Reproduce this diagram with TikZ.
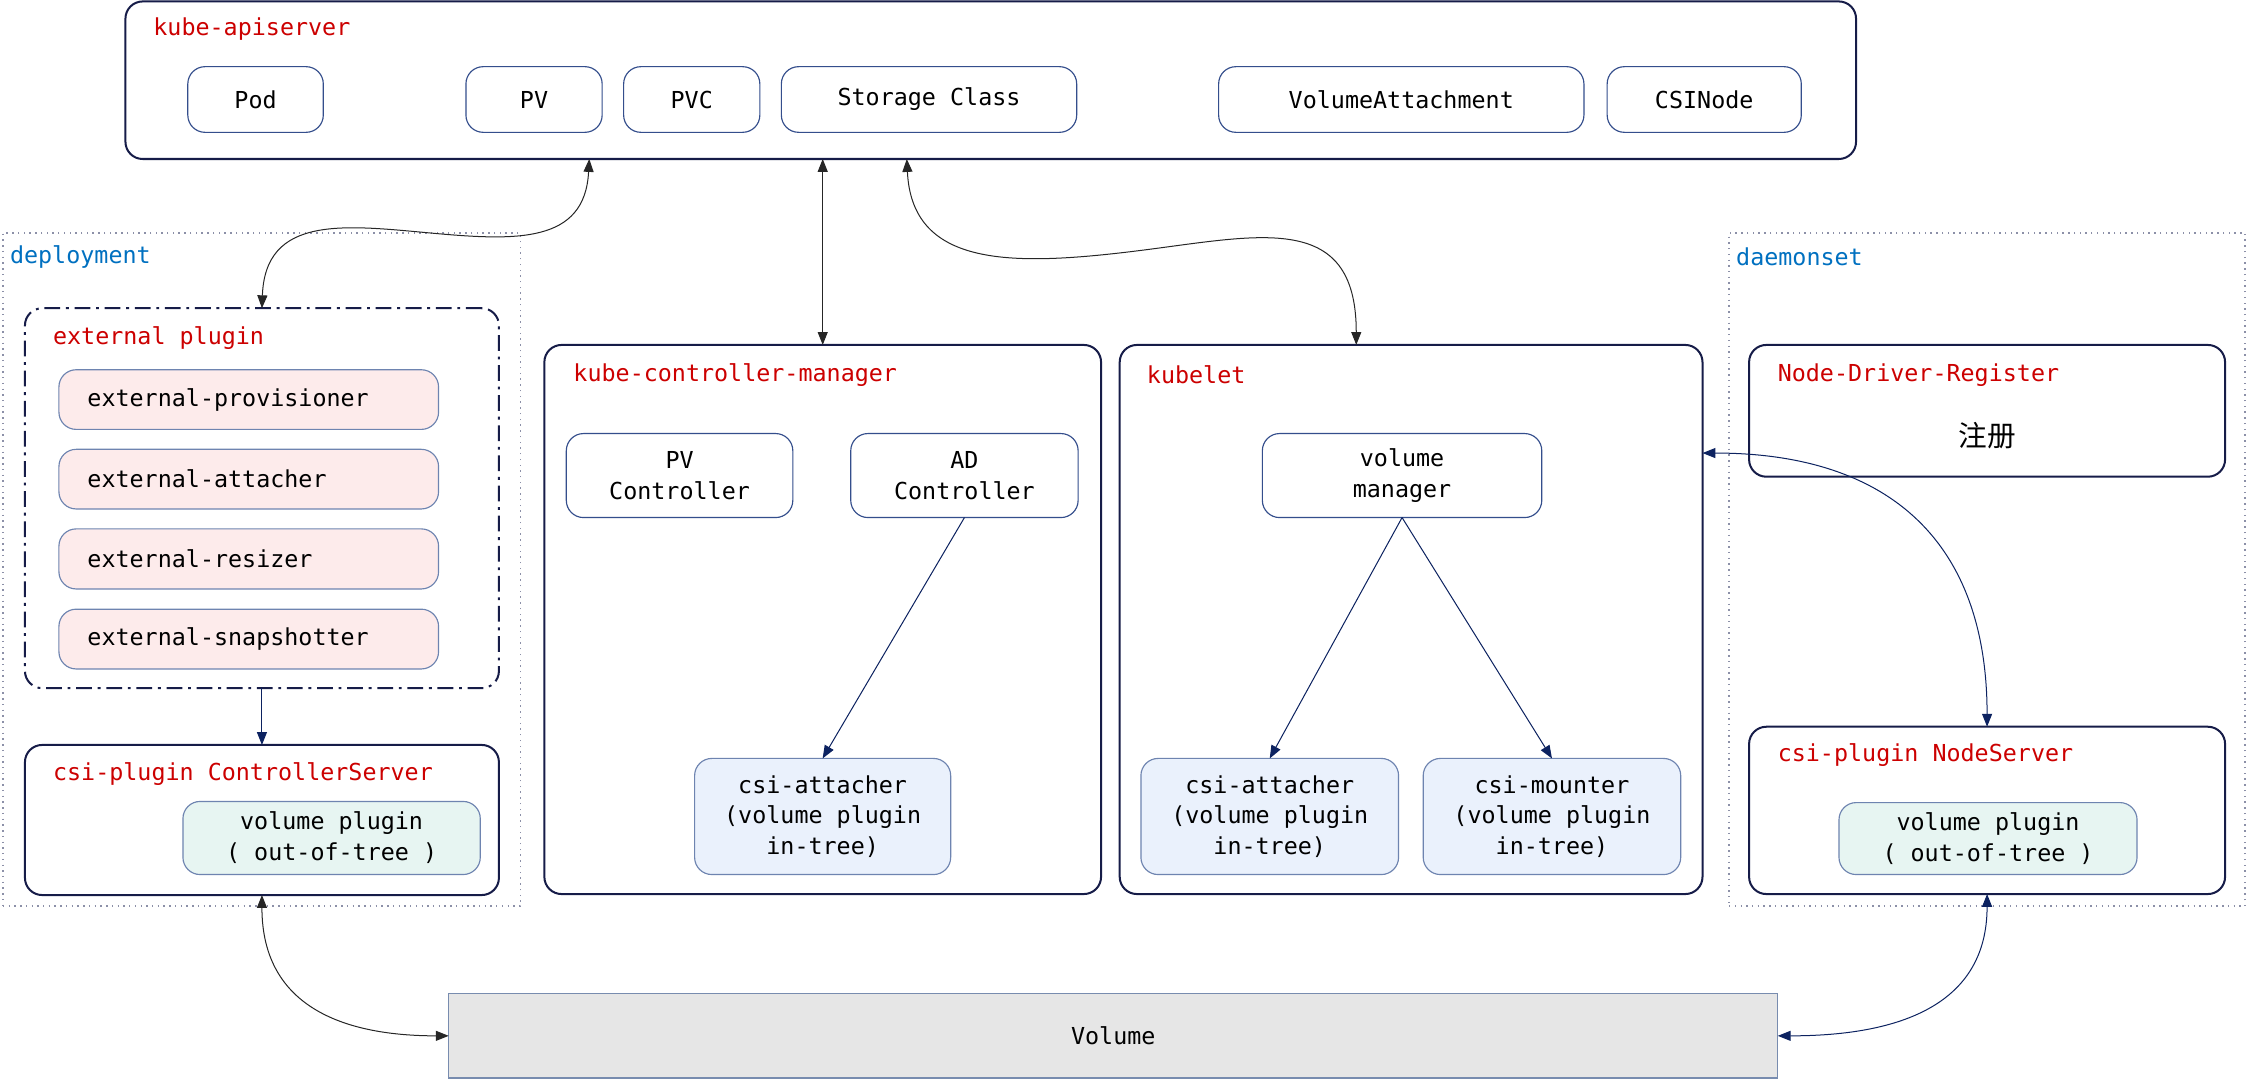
\documentclass[tikz,border=0pt]{standalone}
\usepackage{fontspec}
\setmonofont{DejaVu Sans Mono}
\newfontfamily\cjkfont{Noto Sans CJK SC}
\usetikzlibrary{arrows.meta}
\definecolor{navy}{RGB}{22,28,72}
\definecolor{innerb}{RGB}{52,78,140}
\definecolor{softb}{RGB}{110,132,176}
\definecolor{lred}{RGB}{204,0,0}
\definecolor{lblue}{RGB}{0,112,192}
\definecolor{arrnavy}{RGB}{12,34,96}
\definecolor{dotgray}{RGB}{140,144,168}
\definecolor{pinkf}{RGB}{253,235,235}
\definecolor{mintf}{RGB}{231,245,242}
\definecolor{bluef}{RGB}{234,241,252}
\definecolor{grayf}{RGB}{230,230,230}
\definecolor{volb}{RGB}{120,140,175}
\begin{document}
\begin{tikzpicture}[x=1pt,y=-1pt,
  every node/.style={inner sep=0pt,outer sep=0pt},
  corners/.style n args={4}{minimum width={(#3-#1)*1pt}, minimum height={(#4-#2)*1pt}, at={({(#1+#3)/2},{(#2+#4)/2})}},
  mono/.style={font=\ttfamily\fontsize{16.3pt}{21.5pt}\selectfont},
  outerbox/.style={rectangle, draw=navy, line width=1.4pt, rounded corners=12pt, fill=white},
  itembox/.style={rectangle, draw=innerb, line width=0.8pt, rounded corners=12pt, fill=white, mono, align=center},
  pinkbox/.style={rectangle, draw=softb, line width=0.8pt, rounded corners=12pt, fill=pinkf, mono, align=left, text width=225pt},
  mintbox/.style={rectangle, draw=softb, line width=0.8pt, rounded corners=12pt, fill=mintf, mono, align=center},
  bluebox/.style={rectangle, draw=softb, line width=0.8pt, rounded corners=12pt, fill=bluef, mono, align=center},
  dashbox/.style={rectangle, draw=navy, line width=1.4pt, rounded corners=12pt, dash pattern=on 11pt off 4pt on 2pt off 4pt},
  dotframe/.style={rectangle, draw=dotgray, line width=1pt, dash pattern=on 1pt off 3pt},
  lbl/.style={anchor=west, mono, text=lred},
  grp/.style={anchor=west, mono, text=lblue},
  link/.style={draw=black!85, line width=0.7pt, {Triangle[length=9pt,width=7pt]}-{Triangle[length=9pt,width=7pt]}},
  nlink/.style={draw=arrnavy, line width=0.7pt, -{Triangle[length=9pt,width=7pt]}},
  nlinkb/.style={draw=arrnavy, line width=0.7pt, {Triangle[length=9pt,width=7pt]}-{Triangle[length=9pt,width=7pt]}}
]
\useasboundingbox (0,0) rectangle (1568,755);

% group frames
\node[dotframe, corners={2}{162.5}{363}{632}] (depl) {};
\node[dotframe, corners={1206}{162.5}{1566}{632}] (dmns) {};
\node[grp] (deplLbl) at (7,179) {deployment};
\node[grp] (dmnsLbl) at (1211,179) {daemonset};

% kube-apiserver
\node[outerbox, corners={87.5}{1}{1294.6}{110.9}] (api) {};
\node[lbl] (apiLbl) at (107,20.5) {kube-apiserver};
\node[itembox, corners={131}{46.5}{225.5}{92.3}] (pod) {Pod};
\node[itembox, corners={325}{46.5}{420}{92.3}] (pv) {PV};
\node[itembox, corners={435}{46.5}{530}{92.3}] (pvc) {PVC};
\node[itembox, corners={545}{46.5}{751}{92.3}] (sc) {Storage Class};
\node[itembox, corners={850}{46.5}{1104.8}{92.3}] (va) {VolumeAttachment};
\node[itembox, corners={1121}{46.5}{1256.4}{92.3}] (csin) {CSINode};

% external plugin
\node[dashbox, corners={17.4}{215}{348}{480}] (extp) {};
\node[lbl] (extpLbl) at (37,236) {external plugin};
\node[pinkbox, corners={41.1}{257.9}{305.9}{299.5}] (prov) {external-provisioner};
\node[pinkbox, corners={41.1}{313.4}{305.9}{355}] (atta) {external-attacher};
\node[pinkbox, corners={41.1}{368.9}{305.9}{410.8}] (resz) {external-resizer};
\node[pinkbox, corners={41.1}{424.9}{305.9}{466.6}] (snap) {external-snapshotter};

% csi-plugin ControllerServer
\node[outerbox, corners={17.4}{519.6}{348}{624.3}] (csc) {};
\node[lbl] (cscLbl) at (37,540) {csi-plugin ControllerServer};
\node[mintbox, corners={127.6}{559}{335}{610}] (vpc) {volume plugin\\( out-of-tree )};

% kube-controller-manager
\node[outerbox, corners={379.7}{240.6}{768}{623.6}] (kcm) {};
\node[lbl] (kcmLbl) at (400,261.5) {kube-controller-manager};
\node[itembox, corners={395}{302.4}{553}{361}] (pvc2) {PV\\Controller};
\node[itembox, corners={593.4}{302.4}{752}{361}] (adc) {AD\\Controller};
\node[bluebox, corners={484.5}{529}{663.1}{610}] (att1) {csi-attacher\\(volume plugin\\in-tree)};

% kubelet
\node[outerbox, corners={781}{240.6}{1187.5}{623.6}] (kubelet) {};
\node[lbl] (kubLbl) at (800,261.5) {kubelet};
\node[itembox, corners={880.5}{302.4}{1075.4}{361}] (vm) {volume\\manager};
\node[bluebox, corners={795.8}{529}{975.5}{610}] (att2) {csi-attacher\\(volume plugin\\in-tree)};
\node[bluebox, corners={992.7}{529}{1172.3}{610}] (mnt) {csi-mounter\\(volume plugin\\in-tree)};

% daemonset side
\node[outerbox, corners={1220}{240.6}{1552}{332.5}] (ndr) {};
\node[lbl] (ndrLbl) at (1240,261.5) {Node-Driver-Register};
\node[font=\cjkfont\fontsize{20pt}{24pt}\selectfont] (reg) at (1386,304) {注册};
\node[outerbox, corners={1220}{506.9}{1552}{623.6}] (nsv) {};
\node[lbl] (nsvLbl) at (1240,527) {csi-plugin NodeServer};
\node[mintbox, corners={1282.7}{559.8}{1490.6}{610}] (vpn) {volume plugin\\( out-of-tree )};

% Volume
\node[rectangle, draw=volb, line width=1pt, fill=grayf, mono, corners={313}{693}{1240}{752}] (vol) {Volume};

% connector end points on box borders
\coordinate (apiA) at (411,110.9);
\coordinate (apiB) at (632.5,110.9);
\coordinate (kubB) at (946,240.6);
\coordinate (kubR) at (1187.5,316);

% connectors
\draw[link] (apiA) .. controls (408,170) and (360,168) .. (300,162.5) .. controls (240,157) and (185,150) .. (extp.north);
\draw[link] (api.south -| kcm.north) -- (kcm.north);
\draw[link] (apiB) .. controls (636,185) and (702,186) .. (789,175.5) .. controls (876,165) and (946,145) .. (kubB);
\draw[nlink] (adc.south) -- (att1.north);
\draw[nlink] (vm.south) -- (att2.north);
\draw[nlink] (vm.south) -- (mnt.north);
\draw[nlink] (extp.south) -- (csc.north);
\draw[nlinkb] (kubR) .. controls (1320,316) and (1386,380) .. (nsv.north);
\draw[link] (csc.south) .. controls +(0,80) and +(-70,0) .. (vol.west);
\draw[nlinkb] (nsv.south) .. controls +(0,80) and +(80,0) .. (vol.east);
\end{tikzpicture}
\end{document}
